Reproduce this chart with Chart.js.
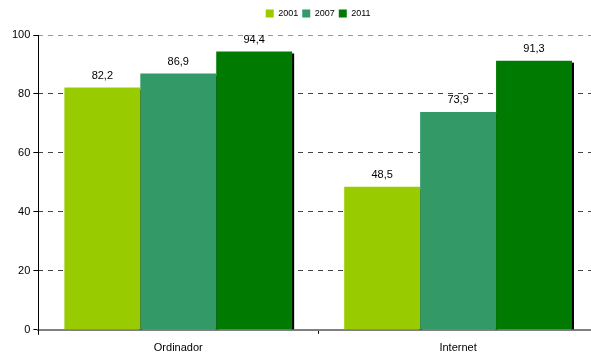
<!DOCTYPE html>
<html>
<head>
<meta charset="utf-8">
<script src="https://cdn.jsdelivr.net/npm/chart.js@4/dist/chart.umd.min.js"></script>
<style>
html,body{margin:0;padding:0;background:#fff;overflow:hidden;}
#wrap{position:relative;width:598px;height:354px;}
</style>
</head>
<body>
<div id="wrap"><canvas id="c"></canvas></div>
<script>
const categories = ["Ordinador", "Internet"];
const seriesNames = ["2001", "2007", "2011"];
const values2001 = [82.2, 48.5];
const values2007 = [86.9, 73.9];
const values2011 = [94.4, 91.3];
const yTicks = [0, 20, 40, 60, 80, 100];

const colors = ["#99CC00", "#339966", "#007A00"];
const FONT = "'Liberation Sans', Arial, sans-serif";

const legendSpacer = {
  id: 'legendSpacer',
  beforeLayout(chart) {
    const lg = chart.legend;
    if (lg && !lg._patched) {
      const f = lg.fit.bind(lg);
      lg.fit = function () { f(); this.height += 7; };
      lg._patched = true;
    }
  }
};

const axisLine = {
  id: 'axisLine',
  afterDraw(chart) {
    const a = chart.chartArea, ctx = chart.ctx;
    ctx.save();
    ctx.strokeStyle = '#000';
    ctx.lineWidth = 1;
    ctx.beginPath();
    const x = Math.round(a.left) + 0.5;
    ctx.moveTo(x, a.top);
    ctx.lineTo(x, a.bottom + 5);
    ctx.stroke();
    ctx.restore();
  }
};

const shadowPlugin = {
  id: 'shadow',
  beforeDatasetsDraw(chart) {
    const ctx = chart.ctx;
    ctx.save();
    ctx.fillStyle = '#000';
    chart.data.datasets.forEach((ds, i) => {
      const meta = chart.getDatasetMeta(i);
      meta.data.forEach(bar => {
        const p = bar.getProps(['x', 'y', 'base', 'width'], true);
        const right = p.x + p.width / 2;
        ctx.fillRect(right - 1, p.y + 2, 3, p.base - p.y - 2);
      });
    });
    ctx.restore();
  }
};

const labelPlugin = {
  id: 'vlabels',
  afterDatasetsDraw(chart) {
    const ctx = chart.ctx;
    ctx.save();
    ctx.font = "11px " + FONT;
    ctx.fillStyle = '#000';
    ctx.textAlign = 'center';
    ctx.textBaseline = 'bottom';
    chart.data.datasets.forEach((ds, i) => {
      const meta = chart.getDatasetMeta(i);
      meta.data.forEach((bar, j) => {
        const p = bar.getProps(['x', 'y'], true);
        ctx.fillText(ds.data[j].toFixed(1).replace('.', ','), p.x, p.y - 6);
      });
    });
    ctx.restore();
  }
};

new Chart(document.getElementById('c'), {
  type: 'bar',
  data: {
    labels: categories,
    datasets: [
      { label: seriesNames[0], data: values2001, backgroundColor: colors[0] },
      { label: seriesNames[1], data: values2007, backgroundColor: colors[1] },
      { label: seriesNames[2], data: values2011, backgroundColor: colors[2] }
    ]
  },
  options: {
    responsive: true,
    maintainAspectRatio: false,
    animation: false,
    devicePixelRatio: 1,
    layout: { padding: { left: 9, right: 0, top: 5, bottom: -9 } },
    datasets: {
      bar: { categoryPercentage: 0.814, barPercentage: 1.0, borderWidth: 0 }
    },
    plugins: {
      legend: {
        position: 'top',
        fullSize: false,
        labels: {
          font: { family: FONT, size: 9 },
          color: '#000',
          boxWidth: 8,
          boxHeight: 8,
          padding: 4
        }
      },
      tooltip: { enabled: false }
    },
    scales: {
      x: {
        grid: {
          display: true,
          drawOnChartArea: false,
          drawTicks: true,
          tickLength: 4,
          offset: true,
          color: '#000'
        },
        border: { display: true, color: '#808080', width: 2 },
        ticks: { font: { family: FONT, size: 11 }, color: '#000', padding: 8 }
      },
      y: {
        min: 0,
        max: 100,
        afterBuildTicks(axis) { axis.ticks = yTicks.map(v => ({ value: v })); },
        grid: {
          color: (ctx) => ctx.tick && ctx.tick.value === 100 ? '#999' : (ctx.tick && ctx.tick.value === 0 ? 'rgba(0,0,0,0)' : '#444'),
          tickColor: '#000',
          tickLength: 5,
          drawTicks: true
        },
        border: { display: false, dash: [5, 5] },
        ticks: { font: { family: FONT, size: 11 }, color: '#000', padding: 3 }
      }
    }
  },
  plugins: [legendSpacer, axisLine, shadowPlugin, labelPlugin]
});
</script>
</body>
</html>
